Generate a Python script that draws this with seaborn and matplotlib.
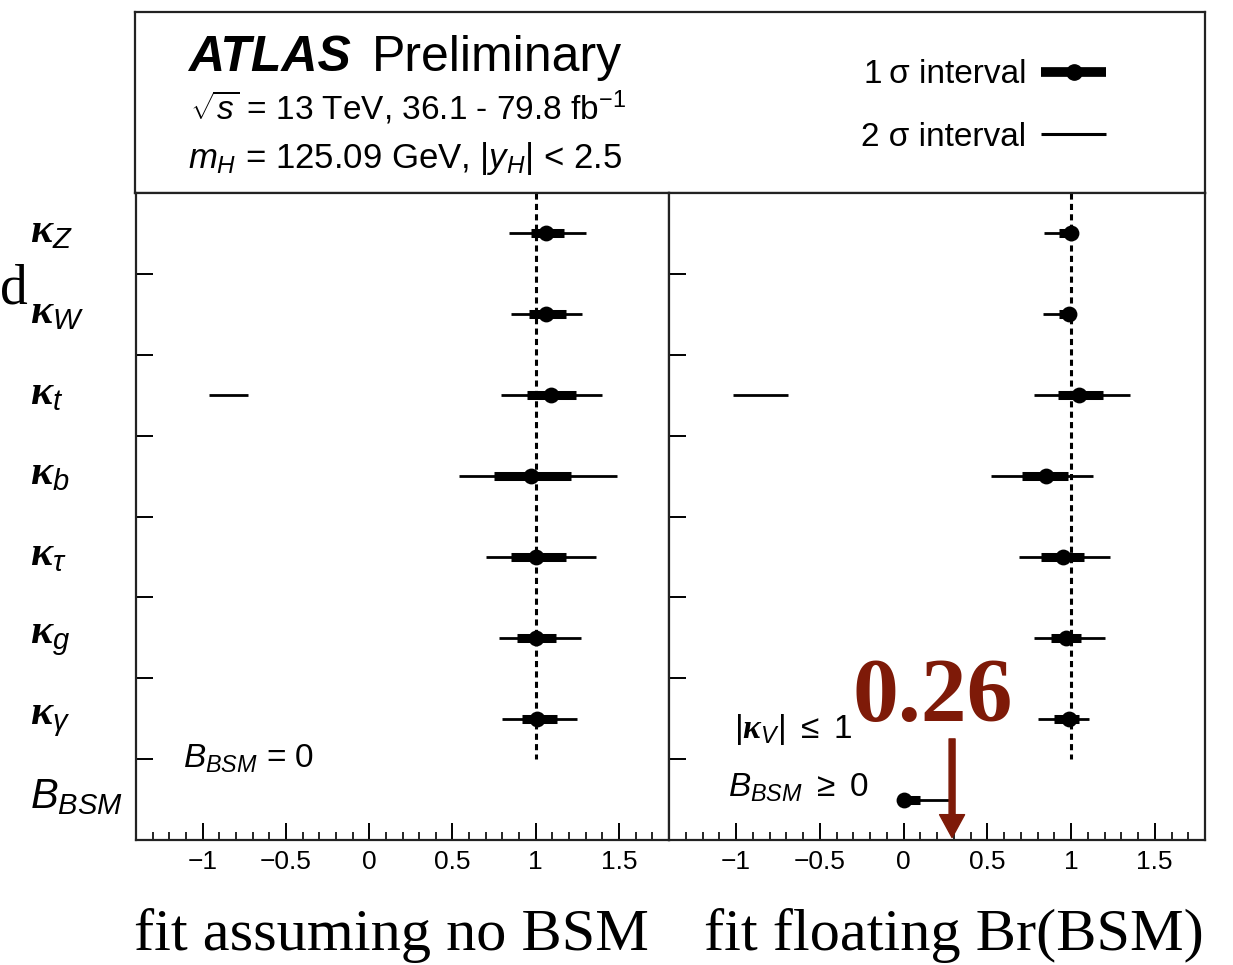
import numpy as np
import pandas as pd
import matplotlib
matplotlib.use("Agg")
import matplotlib.pyplot as plt
from matplotlib.lines import Line2D
from matplotlib.transforms import ScaledTranslation
import seaborn as sns

# ---------------- data ----------------
row_labels = [r"$\mathbf{\kappa}_{Z}$", r"$\mathbf{\kappa}_{W}$", r"$\mathbf{\kappa}_{t}$",
              r"$\mathbf{\kappa}_{b}$", r"$\mathbf{\kappa}_{\tau}$", r"$\mathbf{\kappa}_{g}$",
              r"$\mathbf{\kappa}_{\gamma}$", r"$B_{BSM}$"]

# left: fit assuming no BSM (7 kappas)
left_center = [1.06, 1.06, 1.09, 0.97, 1.00, 1.00, 1.01]
left_1s_lo = [0.97, 0.96, 0.95, 0.75, 0.85, 0.89, 0.92]
left_1s_hi = [1.17, 1.18, 1.24, 1.21, 1.18, 1.12, 1.13]
left_2s_lo = [0.84, 0.85, 0.79, 0.54, 0.70, 0.78, 0.80]
left_2s_hi = [1.30, 1.28, 1.40, 1.49, 1.36, 1.27, 1.25]
left_kt_extra_2s = [-0.96, -0.73]

# right: fit floating Br(BSM) (7 kappas + B_BSM)
right_center = [1.00, 0.99, 1.05, 0.85, 0.95, 0.97, 0.99, 0.00]
right_1s_lo = [0.93, 0.93, 0.92, 0.71, 0.82, 0.88, 0.90, 0.00]
right_1s_hi = [1.00, 1.00, 1.19, 0.98, 1.08, 1.06, 1.05, 0.10]
right_2s_lo = [0.84, 0.83, 0.78, 0.52, 0.69, 0.78, 0.80, 0.00]
right_2s_hi = [1.00, 1.00, 1.35, 1.13, 1.23, 1.20, 1.11, 0.27]
right_kt_extra_2s = [-1.02, -0.69]

sm_value = 1.0
bsm_limit_text = "0.26"
bsm_arrow_x = 0.29
x_ticks = [-1, -0.5, 0, 0.5, 1, 1.5]
x_tick_labels = ["\u22121", "\u22120.5", "0", "0.5", "1", "1.5"]

# ---------------- style ----------------
sns.set_theme(style="ticks")
plt.rcParams["font.family"] = ["Liberation Sans", "DejaVu Sans"]
plt.rcParams["mathtext.fontset"] = "custom"
plt.rcParams["mathtext.rm"] = "Liberation Sans"
plt.rcParams["mathtext.it"] = "Liberation Sans:italic"
plt.rcParams["mathtext.bf"] = "Liberation Serif:bold:italic"
plt.rcParams["mathtext.sf"] = "Liberation Sans"
plt.rcParams["axes.unicode_minus"] = True
for key in ["text.color", "axes.labelcolor", "xtick.color", "ytick.color", "axes.edgecolor"]:
    plt.rcParams[key] = "black"

W, H = 1233, 965
fig = plt.figure(figsize=(W / 100, H / 100), dpi=100)
fig.patch.set_facecolor("white")


def fx(px):
    return px / W


def fy(py):
    return 1 - py / H


DARKRED = "#7E1A08"
LW_SPINE = 1.6

# header box
ax_h = fig.add_axes([fx(135), fy(193), fx(1205) - fx(135), fy(12) - fy(193)])
ax_h.set_xticks([])
ax_h.set_yticks([])
for s in ax_h.spines.values():
    s.set_linewidth(LW_SPINE)
    s.set_color("#222222")

fig.text(fx(188), fy(71), "ATLAS", fontsize=36, fontweight="bold", fontstyle="italic",
         ha="left", va="baseline")
fig.text(fx(372), fy(71), "Preliminary", fontsize=36, ha="left", va="baseline")
fig.text(fx(190), fy(120), r"$\sqrt{s}$ = 13 TeV, 36.1 - 79.8 fb$^{\mathregular{-1}}$",
         fontsize=24, ha="left", va="baseline")
fig.text(fx(188), fy(168), r"$m_{H}$ = 125.09 GeV, $|y_{H}|$ < 2.5",
         fontsize=25, ha="left", va="baseline")

handles = [Line2D([], [], color="black", lw=7, marker="o", markersize=11, solid_capstyle="butt"),
           Line2D([], [], color="black", lw=2.2, solid_capstyle="butt")]
ax_h.legend(handles, ["1\u2009\u03c3 interval", "2 \u03c3 interval"], loc="center right",
            bbox_to_anchor=(fx(1106), fy(106)), bbox_transform=fig.transFigure,
            frameon=False, markerfirst=False, fontsize=24, handlelength=1.95,
            handletextpad=0.45, labelspacing=0.95, borderpad=0, borderaxespad=0)

# panels
ax_l = fig.add_axes([fx(136), fy(840), fx(669) - fx(136), fy(193) - fy(840)])
ax_r = fig.add_axes([fx(669), fy(840), fx(1205) - fx(669), fy(193) - fy(840)], sharey=ax_l)


def draw_panel(ax, center, lo1, hi1, lo2, hi2, extra, nrows):
    rows = np.arange(len(center))
    ax.plot([sm_value, sm_value], [-0.5, 6.5], color="black", lw=2.2,
            ls=(0, (2.0, 1.4)), zorder=1)
    ax.hlines(rows, lo2, hi2, color="black", lw=2.0, zorder=2)
    ax.hlines(rows, lo1, hi1, color="black", lw=6.5, zorder=3)
    ax.hlines([2], [extra[0]], [extra[1]], color="black", lw=2.0, zorder=2)
    df = pd.DataFrame({"value": center, "row": rows})
    sns.scatterplot(data=df, x="value", y="row", ax=ax, color="black", s=130,
                    edgecolor="black", linewidth=0, zorder=4, legend=False)
    ax.set_xlim(-1.4, 1.8)
    ax.set_ylim(7.5, -0.5)
    ax.set_xlabel("")
    ax.set_ylabel("")
    ax.set_xticks(x_ticks)
    ax.set_xticklabels(x_tick_labels, fontsize=19)
    ax.set_xticks(np.arange(-1.3, 1.8, 0.1), minor=True)
    ax.tick_params(axis="x", which="major", direction="in", length=12, width=1.4,
                   bottom=True, top=False, pad=7, colors="black")
    ax.tick_params(axis="x", which="minor", direction="in", length=6, width=1.2,
                   bottom=True, top=False, colors="black")
    ax.set_yticks(np.arange(0.5, nrows - 0.5, 1.0))
    ax.tick_params(axis="y", which="major", direction="in", length=12, width=1.4,
                   left=True, right=False, labelleft=False, colors="black")
    for s in ax.spines.values():
        s.set_linewidth(LW_SPINE)
        s.set_color("#222222")


draw_panel(ax_l, left_center, left_1s_lo, left_1s_hi, left_2s_lo, left_2s_hi,
           left_kt_extra_2s, 8)
draw_panel(ax_r, right_center, right_1s_lo, right_1s_hi, right_2s_lo, right_2s_hi,
           right_kt_extra_2s, 8)

# row labels on left panel (minor ticks at row centres)
ax_l.set_yticks(np.arange(len(row_labels)), minor=True)
ax_l.set_yticklabels(row_labels, minor=True, fontsize=30, ha="left", color="black")
ax_l.tick_params(axis="y", which="minor", length=0, pad=76, labelleft=True)
ax_r.tick_params(axis="y", which="minor", length=0, labelleft=False)
shift_up = ScaledTranslation(0, 7 / 100, fig.dpi_scale_trans)
for lab in ax_l.get_yticklabels(minor=True):
    lab.set_transform(lab.get_transform() + shift_up)

# panel annotations
ax_l.text(-1.12, 6.49, r"$B_{BSM}$ = 0", fontsize=24, ha="left", va="center")
ax_r.text(-1.01, 6.13, r"$|\mathbf{\kappa}_{V}|$ $\leq$ 1", fontsize=24, ha="left", va="center")
ax_r.text(-1.05, 6.86, r"$B_{BSM}$ $\geq$ 0", fontsize=24, ha="left", va="center")

ax_r.text(-0.305, 6.03, bsm_limit_text, fontsize=66, fontweight="bold",
          family=["Liberation Serif"], color=DARKRED, ha="left", va="baseline", zorder=6)
ax_r.annotate("", xy=(bsm_arrow_x, 7.47), xytext=(bsm_arrow_x, 6.25),
              arrowprops=dict(color=DARKRED, width=4.3, headwidth=18, headlength=16.5,
                              shrink=0), zorder=6, annotation_clip=False)

# bottom captions and stray slide glyph
fig.text(fx(134), fy(950), "fit assuming no BSM", fontsize=43.5, family=["Liberation Serif"],
         ha="left", va="baseline")
fig.text(fx(704), fy(950), "fit floating Br(BSM)", fontsize=43.5, family=["Liberation Serif"],
         ha="left", va="baseline")
fig.text(fx(0.5), fy(303), "d", fontsize=40, family=["Liberation Serif"], ha="left",
         va="baseline")

fig.savefig("out.png", dpi=100, facecolor="white")
